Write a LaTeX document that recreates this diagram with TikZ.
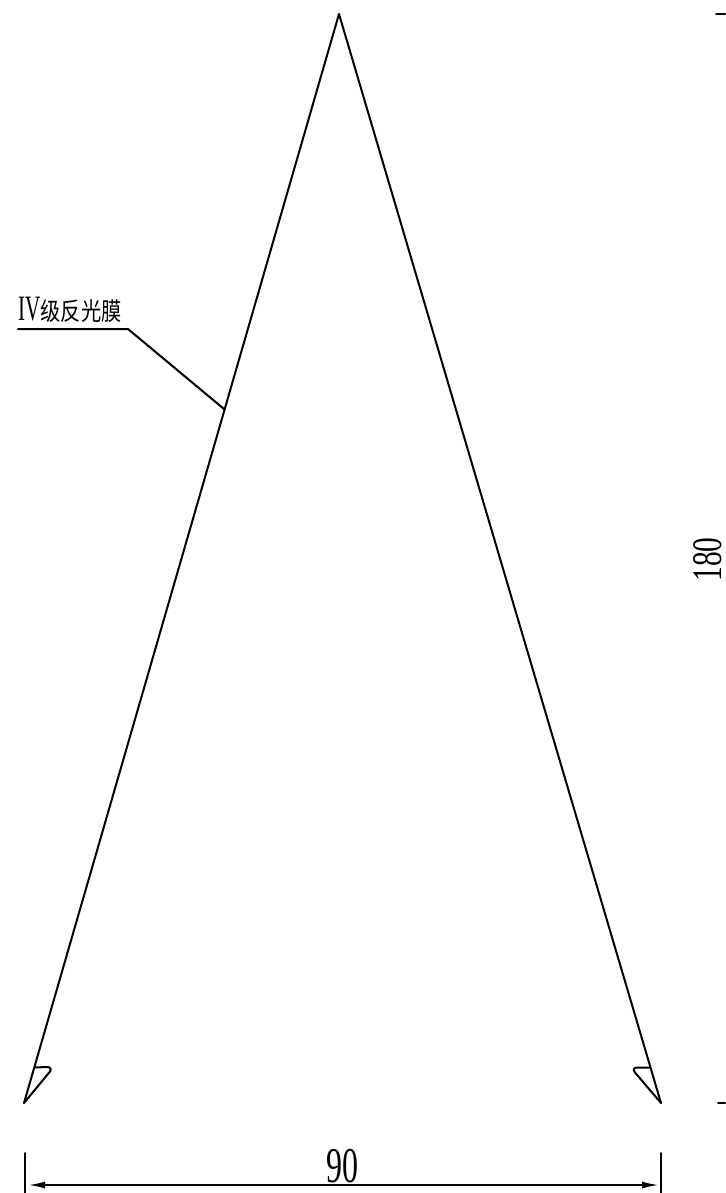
\documentclass[tikz,border=0pt]{standalone}
\usepackage{fontspec}
\usepackage{graphicx}
\setmainfont{Liberation Serif}
\newfontfamily\cjk{Noto Sans CJK SC}
\usetikzlibrary{arrows.meta}
\tikzset{
  ln/.style={line width=2pt,line join=round,line cap=round},
  dimtip/.style={-{Latex[length=17pt,width=7pt]}},
  lbl/.style={inner sep=0pt,outer sep=0pt}
}
\begin{document}
\begin{tikzpicture}[x=1pt,y=-1pt]
\useasboundingbox (0,0) rectangle (725,1193);
\coordinate (apex) at (339,14);
\coordinate (ltip) at (24,1103);
\coordinate (rtip) at (661,1103);
\coordinate (lfold) at (34.5,1067.5);
\coordinate (rfold) at (650,1067.5);
\coordinate (lead0) at (18,329);
\coordinate (lead1) at (128,329);
\coordinate (lead2) at (224,409);
\coordinate (dl0) at (24.5,1153);
\coordinate (dl1) at (24.5,1193);
\coordinate (dr0) at (661,1153);
\coordinate (dr1) at (661,1193);
\coordinate (da) at (28,1185);
\coordinate (db) at (659,1185);
\coordinate (dm) at (342,1185);
\coordinate (t0) at (716,14.5);
\coordinate (t1) at (725,14.5);
\coordinate (t2) at (718,1102.5);
\coordinate (t3) at (725,1102.5);
\draw[ln] (ltip) -- (apex) -- (rtip);
\draw[ln] (lfold) -- (47,1067) .. controls (50.5,1067) and (51.5,1069) .. (50,1071.5) -- (ltip);
\draw[ln] (rfold) -- (637,1067.5) .. controls (633.5,1067.5) and (633,1070) .. (635,1072.5) -- (rtip);
\draw[ln] (lead0) -- (lead1) -- (lead2);
\draw[ln] (dl0) -- (dl1);
\draw[ln] (dr0) -- (dr1);
\draw[ln,dimtip] (dm) -- (da);
\draw[ln,dimtip] (dm) -- (db);
\draw[ln] (t0) -- (t1);
\draw[ln] (t2) -- (t3);
\node[lbl,anchor=west] (leader) at (18,310) {\scalebox{0.62}[1.05]{\fontsize{34}{34}\selectfont IV}\hspace{0.5pt}\scalebox{0.9}[1.1]{\fontsize{22.5}{23}\cjk 级反光膜}};
\node[lbl] (ninety) at (342.5,1166) {\scalebox{0.64}[1]{\fontsize{50}{50}\selectfont 90}};
\node[lbl,rotate=90] (oneeighty) at (708,559.5) {\scalebox{0.7}[1]{\fontsize{42}{42}\selectfont 180}};
\end{tikzpicture}
\end{document}
